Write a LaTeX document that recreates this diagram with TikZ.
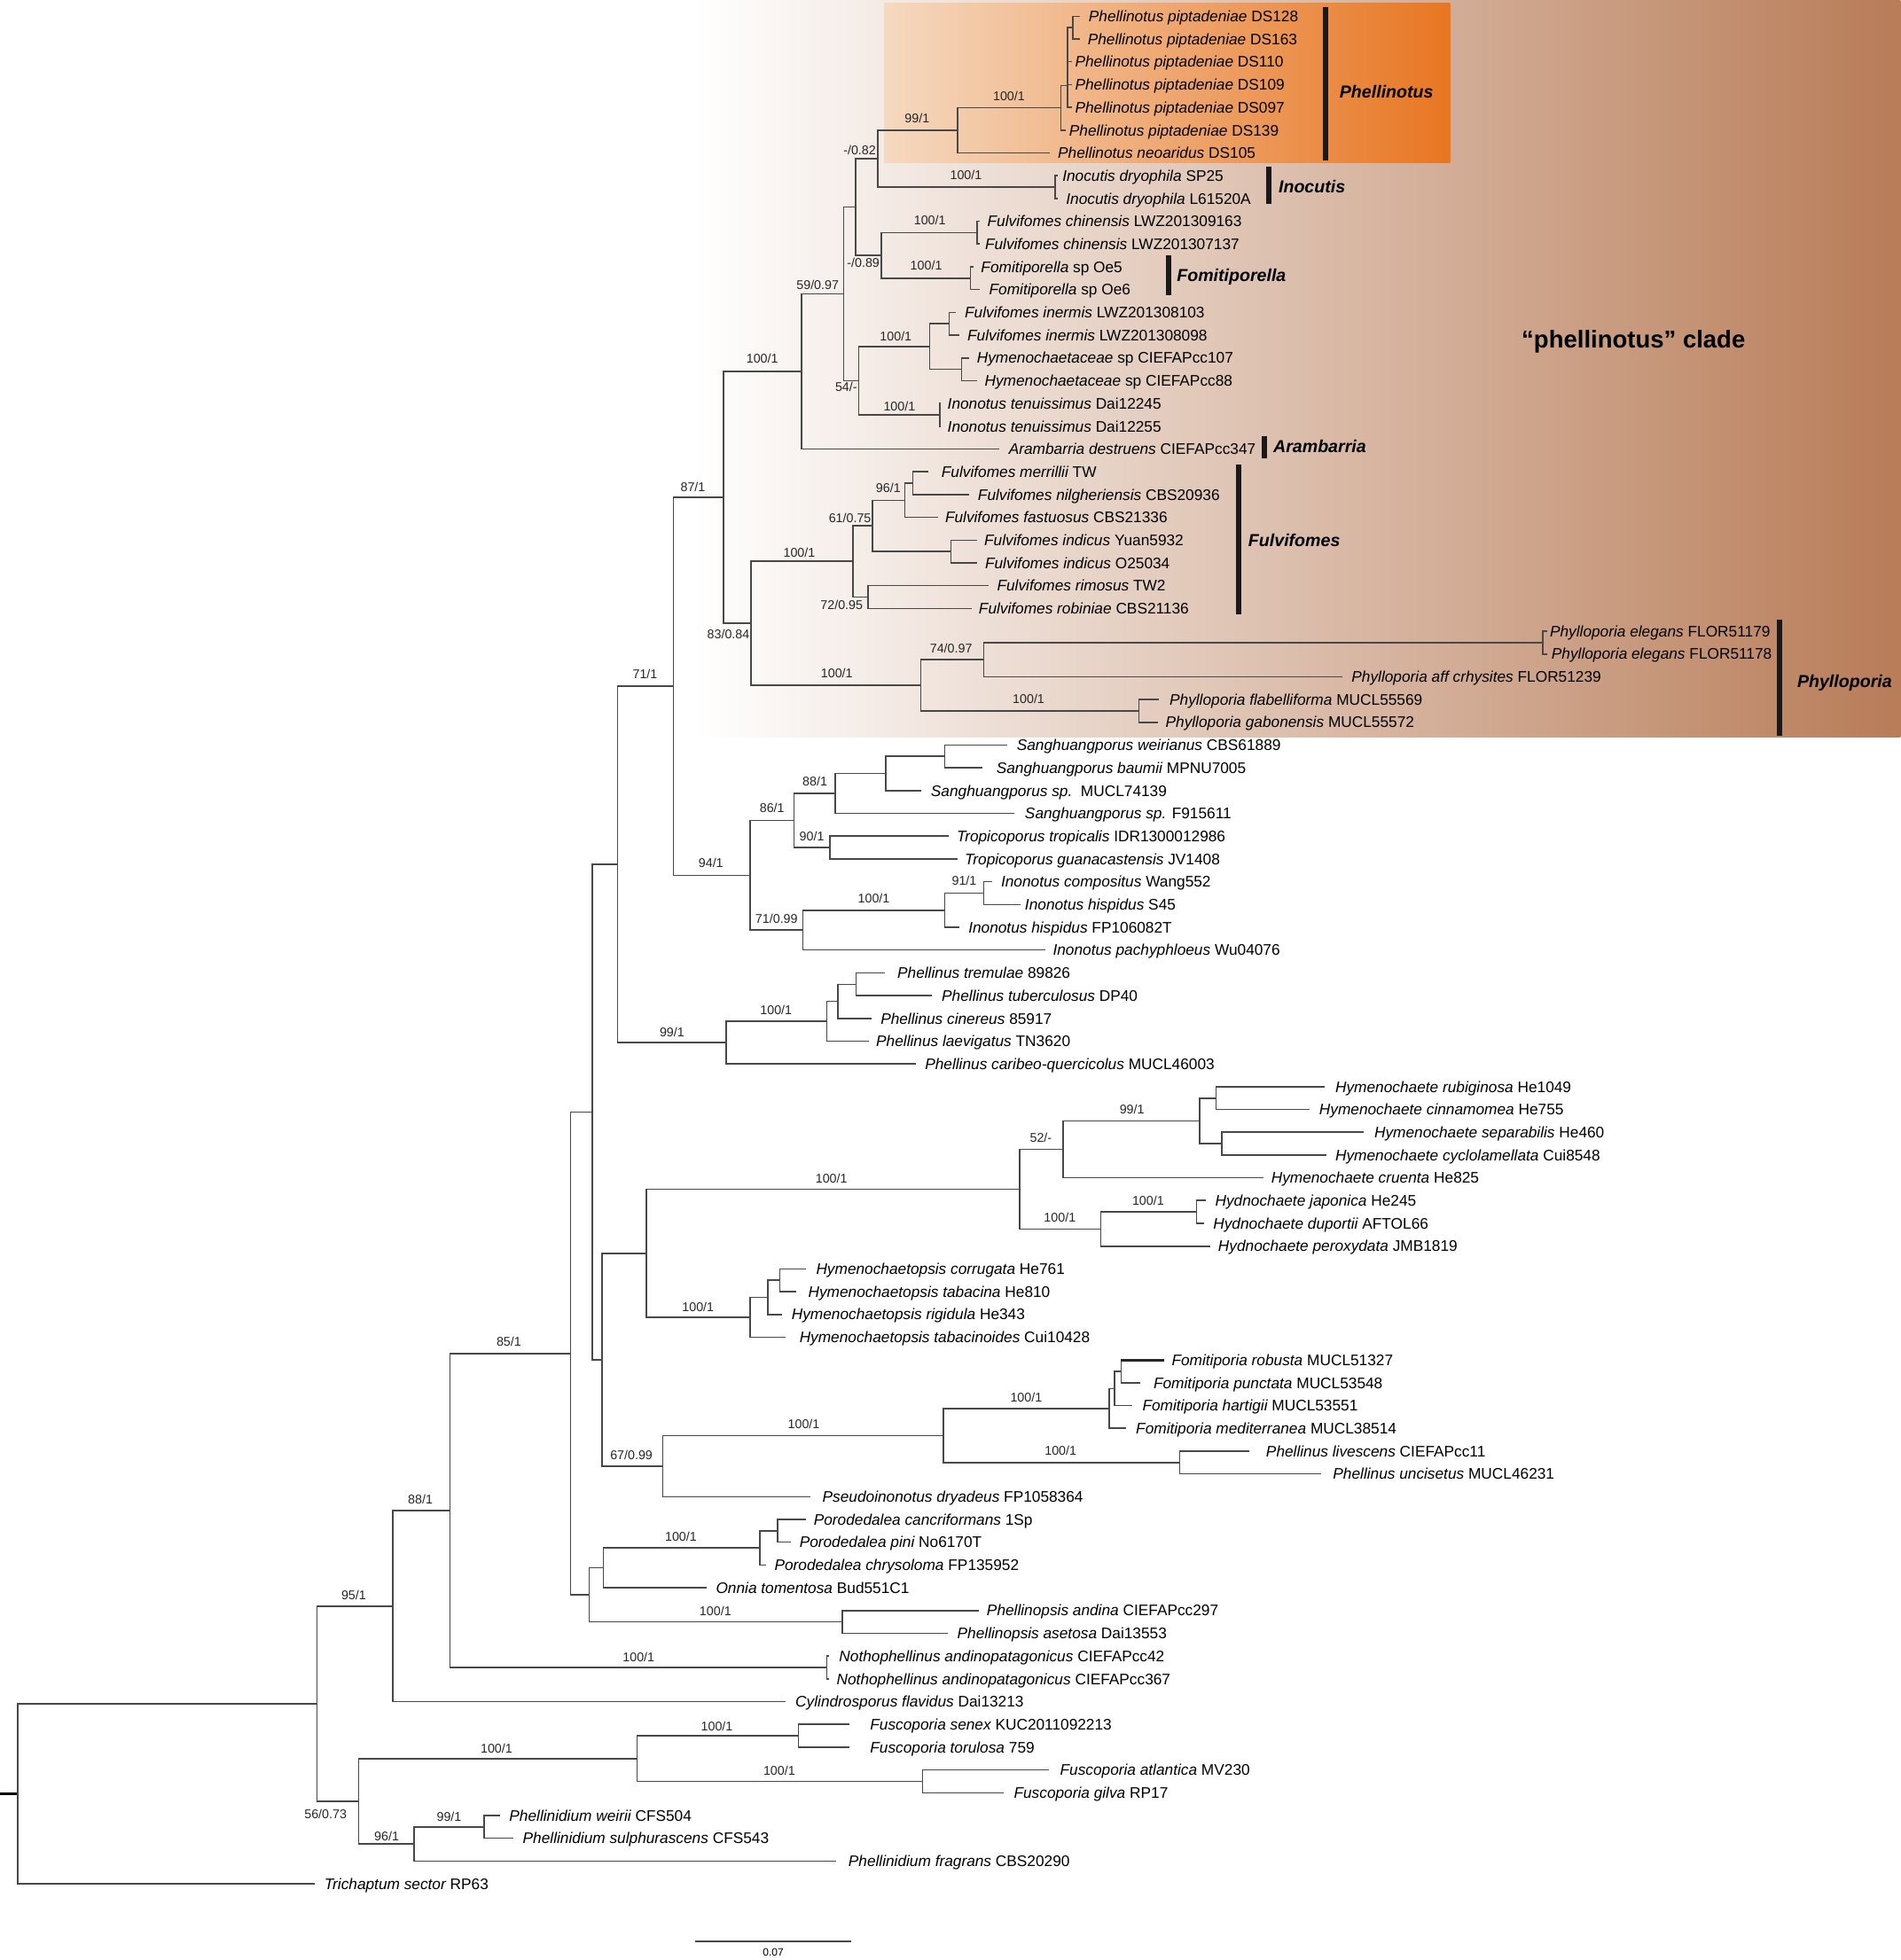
\documentclass[tikz,border=0pt]{standalone}
\usepackage{fontspec}
\setmainfont{Liberation Sans}
\definecolor{cbrown}{RGB}{184,124,88}
\definecolor{oL}{RGB}{245,217,192}
\definecolor{oR}{RGB}{232,118,34}
\definecolor{lg}{RGB}{72,72,72}
\tikzset{
 br/.style={draw=lg, line width=0.45pt},
 taxon/.style={anchor=base west, inner sep=0pt, font=\fontsize{4.9}{5.9}\selectfont},
 supp/.style={inner sep=0pt, font=\fontsize{4.05}{5}\selectfont, text=black!85},
 cladename/.style={anchor=base west, inner sep=0pt, font=\fontsize{5.56}{6.6}\selectfont\bfseries\itshape},
 cbar/.style={line width=1.7pt, draw=black!90},
}
\newcommand\tx[5]{\coordinate (c#1) at (#2,#3); \node[taxon] (t#1) at (#4,#3+4.4) {#5};}
\newcommand\kids[2]{\foreach \kidname in {#2}{\draw[br] (#1) |- (\kidname);}}
\begin{document}
\begin{tikzpicture}[x=0.4pt,y=-0.4pt]
\useasboundingbox (0,0) rectangle (1520,1568);
% backgrounds
\shade[left color=white, right color=cbrown] (555,0) rectangle (1520,590);
\shade[left color=oL, right color=oR] (707.5,2.8) rectangle (1159.7,130);
% taxa
\tx{1}{863.8}{13.0}{870.3}{{\itshape Phellinotus piptadeniae} DS128}
\tx{2}{863.8}{31.2}{869.5}{{\itshape Phellinotus piptadeniae} DS163}
\tx{3}{857.6}{49.4}{859.4}{{\itshape Phellinotus piptadeniae} DS110}
\tx{4}{857.6}{67.7}{859.4}{{\itshape Phellinotus piptadeniae} DS109}
\tx{5}{857.6}{85.9}{859.4}{{\itshape Phellinotus piptadeniae} DS097}
\tx{6}{852.2}{104.1}{854.7}{{\itshape Phellinotus piptadeniae} DS139}
\tx{7}{839.5}{122.3}{845.7}{{\itshape Phellinotus neoaridus} DS105}
\tx{8}{845.7}{140.5}{849.3}{{\itshape Inocutis dryophila} SP25}
\tx{9}{845.7}{158.8}{852.2}{{\itshape Inocutis dryophila} L61520A}
\tx{10}{783.5}{177.0}{789.3}{{\itshape Fulvifomes chinensis} LWZ201309163}
\tx{11}{783.5}{195.2}{787.4}{{\itshape Fulvifomes chinensis} LWZ201307137}
\tx{12}{778.8}{213.4}{784.2}{{\itshape Fomitiporella} sp Oe5}
\tx{13}{783.5}{231.6}{790.7}{{\itshape Fomitiporella} sp Oe6}
\tx{14}{764.6}{249.9}{771.2}{{\itshape Fulvifomes inermis} LWZ201308103}
\tx{15}{767.2}{268.1}{773.3}{{\itshape Fulvifomes inermis} LWZ201308098}
\tx{16}{775.1}{286.3}{780.9}{{\itshape Hymenochaetaceae} sp CIEFAPcc107}
\tx{17}{781.6}{304.5}{787.1}{{\itshape Hymenochaetaceae} sp CIEFAPcc88}
\tx{18}{752.7}{322.7}{757.4}{{\itshape Inonotus tenuissimus} Dai12245}
\tx{19}{752.7}{341.0}{757.4}{{\itshape Inonotus tenuissimus} Dai12255}
\tx{20}{799.1}{359.2}{806.4}{{\itshape Arambarria destruens} CIEFAPcc347}
\tx{21}{742.2}{377.4}{752.6}{{\itshape Fulvifomes merrillii} TW}
\tx{22}{775.4}{395.6}{781.7}{{\itshape Fulvifomes nilgheriensis} CBS20936}
\tx{23}{750.1}{413.8}{755.5}{{\itshape Fulvifomes fastuosus} CBS21336}
\tx{24}{781.7}{432.1}{786.8}{{\itshape Fulvifomes indicus} Yuan5932}
\tx{25}{781.7}{450.3}{787.4}{{\itshape Fulvifomes indicus} O25034}
\tx{26}{790.6}{468.5}{797}{{\itshape Fulvifomes rimosus} TW2}
\tx{27}{777}{486.7}{782.4}{{\itshape Fulvifomes robiniae} CBS21136}
\tx{28}{1237.3}{504.9}{1239.2}{{\itshape Phylloporia elegans} FLOR51179}
\tx{29}{1237.3}{523.2}{1240.5}{{\itshape Phylloporia elegans} FLOR51178}
\tx{30}{1074}{541.4}{1080.6}{{\itshape Phylloporia aff crhysites} FLOR51239}
\tx{31}{927.2}{559.6}{935}{{\itshape Phylloporia flabelliforma} MUCL55569}
\tx{32}{925.9}{577.8}{931.8}{{\itshape Phylloporia gabonensis} MUCL55572}
\tx{33}{805.6}{596.0}{812.8}{{\itshape Sanghuangporus weirianus} CBS61889}
\tx{34}{785.7}{614.3}{796.5}{{\itshape Sanghuangporus baumii} MPNU7005}
\tx{35}{736.8}{632.5}{744.1}{{\itshape Sanghuangporus sp.}\ \ MUCL74139}
\tx{36}{811}{650.7}{819.3}{{\itshape Sanghuangporus sp.} F915611}
\tx{37}{758.5}{668.9}{764.7}{{\itshape Tropicoporus tropicalis} IDR1300012986}
\tx{38}{765.8}{687.1}{771.2}{{\itshape Tropicoporus guanacastensis} JV1408}
\tx{39}{793.6}{705.4}{800.2}{{\itshape Inonotus compositus} Wang552}
\tx{40}{816.4}{723.6}{819.3}{{\itshape Inonotus hispidus} S45}
\tx{41}{767.6}{741.8}{774.1}{{\itshape Inonotus hispidus} FP106082T}
\tx{42}{836.3}{760.0}{841.7}{{\itshape Inonotus pachyphloeus} Wu04076}
\tx{43}{707.5}{778.2}{717.3}{{\itshape Phellinus tremulae} 89826}
\tx{44}{745.5}{796.5}{752.8}{{\itshape Phellinus tuberculosus} DP40}
\tx{45}{697.4}{814.7}{703.9}{{\itshape Phellinus cinereus} 85917}
\tx{46}{694.9}{832.9}{700.3}{{\itshape Phellinus laevigatus} TN3620}
\tx{47}{732.9}{851.1}{739.4}{{\itshape Phellinus caribeo-quercicolus} MUCL46003}
\tx{48}{1059.8}{869.3}{1067.6}{{\itshape Hymenochaete rubiginosa} He1049}
\tx{49}{1047.2}{887.6}{1054.7}{{\itshape Hymenochaete cinnamomea} He755}
\tx{50}{1091}{905.8}{1098.8}{{\itshape Hymenochaete separabilis} He460}
\tx{51}{1060.8}{924.0}{1067.6}{{\itshape Hymenochaete cyclolamellata} Cui8548}
\tx{52}{1010.6}{942.2}{1016.3}{{\itshape Hymenochaete cruenta} He825}
\tx{53}{964.8}{960.4}{971.5}{{\itshape Hydnochaete japonica} He245}
\tx{54}{963.1}{978.7}{969.9}{{\itshape Hydnochaete duportii} AFTOL66}
\tx{55}{968.2}{996.9}{973.9}{{\itshape Hydnochaete peroxydata} JMB1819}
\tx{56}{644.4}{1015.1}{652.3}{{\itshape Hymenochaetopsis corrugata} He761}
\tx{57}{636.5}{1033.3}{646}{{\itshape Hymenochaetopsis tabacina} He810}
\tx{58}{625.4}{1051.5}{632.7}{{\itshape Hymenochaetopsis rigidula} He343}
\tx{59}{628.5}{1069.8}{639}{{\itshape Hymenochaetopsis tabacinoides} Cui10428}
\tx{60}{931.5}{1088.0}{936.7}{{\itshape Fomitiporia robusta} MUCL51327}
\tx{61}{912.3}{1106.2}{922.2}{{\itshape Fomitiporia punctata} MUCL53548}
\tx{62}{905.5}{1124.4}{913.3}{{\itshape Fomitiporia hartigii} MUCL53551}
\tx{63}{900.3}{1142.6}{908.1}{{\itshape Fomitiporia mediterranea} MUCL38514}
\tx{64}{999.2}{1160.9}{1012.2}{{\itshape Phellinus livescens} CIEFAPcc11}
\tx{65}{1056.4}{1179.1}{1065.7}{{\itshape Phellinus uncisetus} MUCL46231}
\tx{66}{648.1}{1197.3}{657.4}{{\itshape Pseudoinonotus dryadeus} FP1058364}
\tx{67}{644.3}{1215.5}{650.4}{{\itshape Porodedalea cancriformans} 1Sp}
\tx{68}{632.9}{1233.7}{639}{{\itshape Porodedalea pini} No6170T}
\tx{69}{612.9}{1252.0}{619}{{\itshape Porodedalea chrysoloma} FP135952}
\tx{70}{564.9}{1270.2}{572.2}{{\itshape Onnia tomentosa} Bud551C1}
\tx{71}{782.6}{1288.4}{788.8}{{\itshape Phellinopsis andina} CIEFAPcc297}
\tx{72}{758.2}{1306.6}{765.2}{{\itshape Phellinopsis asetosa} Dai13553}
\tx{73}{663.4}{1324.8}{670.7}{{\itshape Nothophellinus andinopatagonicus} CIEFAPcc42}
\tx{74}{663.4}{1343.1}{668.7}{{\itshape Nothophellinus andinopatagonicus} CIEFAPcc367}
\tx{75}{628}{1361.3}{635.8}{{\itshape Cylindrosporus flavidus} Dai13213}
\tx{76}{679.2}{1379.5}{695.5}{{\itshape Fuscoporia senex} KUC2011092213}
\tx{77}{679.2}{1397.7}{695.5}{{\itshape Fuscoporia torulosa} 759}
\tx{78}{839.2}{1415.9}{847.4}{{\itshape Fuscoporia atlantica} MV230}
\tx{79}{802.9}{1434.2}{810.5}{{\itshape Fuscoporia gilva} RP17}
\tx{80}{399.8}{1452.4}{406.9}{{\itshape Phellinidium weirii} CFS504}
\tx{81}{410.7}{1470.6}{417.7}{{\itshape Phellinidium sulphurascens} CFS543}
\tx{82}{668.4}{1488.8}{678.1}{{\itshape Phellinidium fragrans} CBS20290}
\tx{83}{252}{1507.0}{259}{{\itshape Trichaptum sector} RP63}
% internal nodes
\coordinate (rs) at (0,1435);
\coordinate (R) at (14,1435);
\coordinate (nA) at (253.5,1363);
\coordinate (nB) at (314,1284.9);
\coordinate (nC) at (360,1208.5);
\coordinate (nD) at (456.5,1082.8);
\coordinate (nMid) at (473.9,889.6);
\coordinate (nUp) at (493.9,691.5);
\coordinate (n71) at (538.5,549);
\coordinate (n87) at (578.8,397.9);
\coordinate (n100t) at (640.9,297.1);
\coordinate (n59) at (674.9,235);
\coordinate (nX) at (684.3,165.6);
\coordinate (n82) at (702,127);
\coordinate (n99P) at (766.1,104.3);
\coordinate (nP100) at (848.6,86.3);
\coordinate (nP1) at (854,68.5);
\coordinate (nPp) at (858.3,22.1);
\coordinate (nIno) at (843.9,149.6);
\coordinate (n89) at (705,204.3);
\coordinate (nChin) at (781.6,186.1);
\coordinate (nFomp) at (776.2,222.5);
\coordinate (n54) at (686.9,304.5);
\coordinate (n100IH) at (743.7,277.2);
\coordinate (nInerm) at (759.2,259);
\coordinate (nHymsp) at (769,295.4);
\coordinate (nTen) at (751.6,331.8);
\coordinate (n83) at (600.8,498.6);
\coordinate (nFul) at (682.1,449.1);
\coordinate (n61) at (698,420.7);
\coordinate (n96) at (723.7,400.2);
\coordinate (nMN) at (730.2,386.5);
\coordinate (nInd) at (760.7,441.2);
\coordinate (n72) at (694.2,477.6);
\coordinate (nPhy) at (736.5,548.2);
\coordinate (n74) at (786.8,527.7);
\coordinate (nEleg) at (1234,514.1);
\coordinate (nFlab) at (910.8,568.7);
\coordinate (n94) at (600,700.2);
\coordinate (n86) at (635.2,656.4);
\coordinate (n88s) at (668.2,634.8);
\coordinate (nS2) at (708.4,618.8);
\coordinate (nS3) at (755.5,605.1);
\coordinate (n90) at (663.7,678);
\coordinate (n71b) at (642.1,744.1);
\coordinate (nI100) at (755.7,728.2);
\coordinate (nI91) at (786.8,714.5);
\coordinate (nPhel) at (581,834);
\coordinate (nPh100) at (661.2,817);
\coordinate (nPh2) at (670.3,801);
\coordinate (nPh3) at (684.8,787.4);
\coordinate (nHF) at (481.5,1087.7);
\coordinate (nHH) at (517.1,1002.6);
\coordinate (nHyme) at (815.5,951.4);
\coordinate (n52) at (850.1,919.5);
\coordinate (n99H) at (959.7,896.7);
\coordinate (nH1) at (972.6,878.5);
\coordinate (nH2) at (977.3,914.9);
\coordinate (nHyd) at (880.3,983.2);
\coordinate (nHyd2) at (957,969.5);
\coordinate (nHops) at (600.1,1053.8);
\coordinate (nHops2) at (614.3,1037.9);
\coordinate (nHops3) at (623.8,1024.2);
\coordinate (n67) at (530,1172.8);
\coordinate (n100F) at (754.7,1148.4);
\coordinate (nFomi) at (887.3,1126.7);
\coordinate (nFomi2) at (891.5,1110.8);
\coordinate (nFomi3) at (896.7,1097.1);
\coordinate (nPhL) at (943.5,1170);
\coordinate (nPO) at (471.3,1275.9);
\coordinate (nPorOn) at (482.7,1254.2);
\coordinate (nPor) at (607.6,1238.3);
\coordinate (nPor2) at (621.9,1224.6);
\coordinate (nPhps) at (673.6,1297.5);
\coordinate (nNotho) at (661.4,1334);
\coordinate (nF56) at (287,1441);
\coordinate (nFusc) at (509.4,1406.8);
\coordinate (nSenex) at (638.5,1388.6);
\coordinate (nAtl) at (737.8,1425);
\coordinate (nPhd96) at (331,1475.2);
\coordinate (nPhd99) at (387.4,1461.5);
% branches
\draw[line width=1pt, black] (rs) -- (R);
\kids{R}{nA,c83}
\kids{nA}{nB,nF56}
\kids{nB}{nC,c75}
\kids{nC}{nD,nNotho}
\kids{nD}{nMid,nPO}
\kids{nMid}{nUp,nHF}
\kids{nUp}{n71,nPhel}
\kids{n71}{n87,n94}
\kids{n87}{n100t,n83}
\kids{n100t}{n59,c20}
\kids{n59}{nX,n54}
\kids{nX}{n82,n89}
\kids{n82}{n99P,nIno}
\kids{n99P}{nP100,c7}
\kids{nP100}{nP1,c6}
\kids{nP1}{nPp,c3,c4,c5}
\kids{nPp}{c1,c2}
\kids{nIno}{c8,c9}
\kids{n89}{nChin,nFomp}
\kids{nChin}{c10,c11}
\kids{nFomp}{c12,c13}
\kids{n54}{n100IH,nTen}
\kids{n100IH}{nInerm,nHymsp}
\kids{nInerm}{c14,c15}
\kids{nHymsp}{c16,c17}
\kids{nTen}{c18,c19}
\kids{n83}{nFul,nPhy}
\kids{nFul}{n61,n72}
\kids{n61}{n96,nInd}
\kids{n96}{nMN,c23}
\kids{nMN}{c21,c22}
\kids{nInd}{c24,c25}
\kids{n72}{c26,c27}
\kids{nPhy}{n74,nFlab}
\kids{n74}{nEleg,c30}
\kids{nEleg}{c28,c29}
\kids{nFlab}{c31,c32}
\kids{n94}{n86,n71b}
\kids{n86}{n88s,n90}
\kids{n88s}{nS2,c36}
\kids{nS2}{nS3,c35}
\kids{nS3}{c33,c34}
\kids{n90}{c37,c38}
\kids{n71b}{nI100,c42}
\kids{nI100}{nI91,c41}
\kids{nI91}{c39,c40}
\kids{nPhel}{nPh100,c47}
\kids{nPh100}{nPh2,c46}
\kids{nPh2}{nPh3,c45}
\kids{nPh3}{c43,c44}
\kids{nHF}{nHH,n67}
\kids{nHH}{nHyme,nHops}
\kids{nHyme}{n52,nHyd}
\kids{n52}{n99H,c52}
\kids{n99H}{nH1,nH2}
\kids{nH1}{c48,c49}
\kids{nH2}{c50,c51}
\kids{nHyd}{nHyd2,c55}
\kids{nHyd2}{c53,c54}
\kids{nHops}{nHops2,c59}
\kids{nHops2}{nHops3,c58}
\kids{nHops3}{c56,c57}
\kids{n67}{n100F,c66}
\kids{n100F}{nFomi,nPhL}
\kids{nFomi}{nFomi2,c63}
\kids{nFomi2}{nFomi3,c62}
\kids{nFomi3}{c60,c61}
\kids{nPhL}{c64,c65}
\kids{nPO}{nPorOn,nPhps}
\kids{nPorOn}{nPor,c70}
\kids{nPor}{nPor2,c69}
\kids{nPor2}{c67,c68}
\kids{nPhps}{c71,c72}
\kids{nNotho}{c73,c74}
\kids{nF56}{nFusc,nPhd96}
\kids{nFusc}{nSenex,nAtl}
\kids{nSenex}{c76,c77}
\kids{nAtl}{c78,c79}
\kids{nPhd96}{nPhd99,c82}
\kids{nPhd99}{c80,c81}
\draw[line width=0.9pt, black!85] (nFomi3 |- c60) -- (c60);
% support values
\node[supp] (s1) at (807,76.8) {100/1};
\node[supp] (s2) at (733.5,94.5) {99/1};
\node[supp] (s3) at (687.6,120) {-/0.82};
\node[supp] (s4) at (772.6,140) {100/1};
\node[supp] (s5) at (743.7,176) {100/1};
\node[supp] (s6) at (690.5,210) {-/0.89};
\node[supp] (s7) at (740.8,212.2) {100/1};
\node[supp] (s8) at (654,227.6) {59/0.97};
\node[supp] (s9) at (716.5,269.4) {100/1};
\node[supp] (s10) at (676.8,309.6) {54/-};
\node[supp] (s11) at (719.4,325) {100/1};
\node[supp] (s12) at (609.7,287.1) {100/1};
\node[supp] (s13) at (554.2,389.3) {87/1};
\node[supp] (s14) at (710.5,390.4) {96/1};
\node[supp] (s15) at (679.8,414.3) {61/0.75};
\node[supp] (s16) at (639.3,442) {100/1};
\node[supp] (s17) at (673.2,483.8) {72/0.95};
\node[supp] (s18) at (582.6,507) {83/0.84};
\node[supp] (s19) at (760.7,518.7) {74/0.97};
\node[supp] (s20) at (669.3,538.8) {100/1};
\node[supp] (s21) at (822.7,558.9) {100/1};
\node[supp] (s22) at (515.9,539.3) {71/1};
\node[supp] (s23) at (651.8,625.1) {88/1};
\node[supp] (s24) at (617.5,646.4) {86/1};
\node[supp] (s25) at (649.3,668.8) {90/1};
\node[supp] (s26) at (568.6,690.6) {94/1};
\node[supp] (s27) at (771.2,704.8) {91/1};
\node[supp] (s28) at (698.9,718.5) {100/1};
\node[supp] (s29) at (621.1,735) {71/0.99};
\node[supp] (s30) at (620.7,808.2) {100/1};
\node[supp] (s31) at (537.5,826) {99/1};
\node[supp] (s32) at (905.4,887.4) {99/1};
\node[supp] (s33) at (832.5,909.9) {52/-};
\node[supp] (s34) at (665,943) {100/1};
\node[supp] (s35) at (918.3,960.7) {100/1};
\node[supp] (s36) at (847.7,974.2) {100/1};
\node[supp] (s37) at (558.3,1045.8) {100/1};
\node[supp] (s38) at (407,1073.3) {85/1};
\node[supp] (s39) at (820.8,1117.8) {100/1};
\node[supp] (s40) at (642.9,1139) {100/1};
\node[supp] (s41) at (848.3,1160.3) {100/1};
\node[supp] (s42) at (505,1163.9) {67/0.99};
\node[supp] (s43) at (544.6,1229.6) {100/1};
\node[supp] (s44) at (572.2,1289.2) {100/1};
\node[supp] (s45) at (510.8,1325.8) {100/1};
\node[supp] (s46) at (336.2,1199.8) {88/1};
\node[supp] (s47) at (282.9,1276) {95/1};
\node[supp] (s48) at (573.4,1380.8) {100/1};
\node[supp] (s49) at (397.1,1398.5) {100/1};
\node[supp] (s50) at (623.3,1416.2) {100/1};
\node[supp] (s51) at (260.4,1451) {56/0.73};
\node[supp] (s52) at (359.2,1453.3) {99/1};
\node[supp] (s53) at (309.3,1468.7) {96/1};
% clade bars and names
\draw[cbar] (1060.2,5.9) -- (1060.2,128.3);
\node[cladename] (kPhellinotus) at (1071,78.3) {Phellinotus};
\draw[cbar] (1015,133.5) -- (1015,163);
\node[cladename] (kInocutis) at (1022.2,154) {Inocutis};
\draw[cbar] (934.7,204.4) -- (934.7,236.3);
\node[cladename] (kFomitiporella) at (940.8,225) {Fomitiporella};
\draw[cbar] (1011.2,348.6) -- (1011.2,366.8);
\node[cladename] (kArambarria) at (1018,362) {Arambarria};
\draw[cbar] (990.6,371.5) -- (990.6,491.6);
\node[cladename] (kFulvifomes) at (998,437) {Fulvifomes};
\draw[cbar] (1423.3,496) -- (1423.3,588.4);
\node[cladename] (kPhylloporia) at (1437,550) {Phylloporia};
\node[anchor=base, inner sep=0pt, font=\fontsize{7.8}{9}\selectfont\bfseries] (title) at (1306.5,278) {“phellinotus” clade};
% scale bar
\coordinate (sb1) at (556,1553);
\coordinate (sb2) at (681,1553);
\draw[br] (sb1) -- (sb2);
\node[inner sep=0pt, font=\fontsize{3.4}{4}\selectfont] (sbl) at (618.5,1562) {0.07};
\end{tikzpicture}
\end{document}
